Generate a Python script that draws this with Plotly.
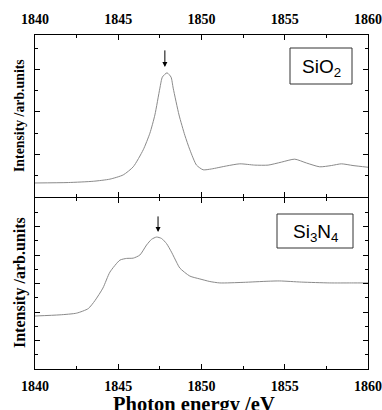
import plotly.graph_objects as go

W, H = 382, 410

# ---- data ----
energy_sio2 = [1840, 1842, 1843.5, 1844.5, 1845.3, 1845.9, 1846.5, 1846.9, 1847.2, 1847.5,
               1847.65, 1847.93, 1848.17, 1848.3, 1848.65, 1849.0, 1849.3, 1849.7, 1850.1,
               1850.6, 1851.5, 1852.3, 1853.2, 1854.0, 1854.8, 1855.6, 1856.3, 1857.1,
               1857.8, 1858.4, 1859.1, 1860]
intensity_sio2 = [0.33, 0.34, 0.37, 0.42, 0.52, 0.71, 1.11, 1.50, 1.93, 2.56,
                  2.82, 2.92, 2.82, 2.56, 1.93, 1.45, 1.11, 0.75, 0.64,
                  0.66, 0.73, 0.78, 0.75, 0.75, 0.82, 0.89, 0.80, 0.71,
                  0.74, 0.78, 0.74, 0.70]

energy_si3n4 = [1840, 1841.5, 1842.5, 1843.2, 1843.6, 1844.08, 1844.5, 1845.1, 1845.5, 1845.9,
                1846.3, 1846.7, 1847.0, 1847.3, 1847.6, 1847.9, 1848.2, 1848.5, 1848.7,
                1849.3, 1849.9, 1850.5, 1851.1, 1852.5, 1854.0, 1854.7, 1856.0, 1857.7,
                1859.0, 1860]
intensity_si3n4 = [1.86, 1.90, 1.96, 2.12, 2.40, 2.84, 3.40, 3.82, 3.88, 3.89,
                   4.00, 4.35, 4.55, 4.63, 4.58, 4.40, 4.10, 3.75, 3.54,
                   3.26, 3.16, 3.07, 3.02, 3.04, 3.08, 3.09, 3.05, 3.02,
                   3.02, 3.02]

arrow_sio2 = (1847.8, 3.06)
arrow_si3n4 = (1847.39, 4.81)
x_ticks = [1840, 1845, 1850, 1855, 1860]


def px(x):
    return x / W


def py(y):
    return 1 - y / H


fig = go.Figure()
line_style = dict(color="#8a8a8a", width=1, shape="spline", smoothing=0.6)
fig.add_trace(go.Scatter(x=energy_sio2, y=intensity_sio2, mode="lines", line=line_style,
                         xaxis="x", yaxis="y", showlegend=False, hoverinfo="skip"))
fig.add_trace(go.Scatter(x=energy_si3n4, y=intensity_si3n4, mode="lines", line=line_style,
                         xaxis="x2", yaxis="y2", showlegend=False, hoverinfo="skip"))

tickfont = dict(family="Liberation Serif", size=14, color="black", weight="bold")
xcommon = dict(range=[1840, 1860], tickvals=x_ticks, ticks="inside", ticklen=5, tickwidth=1,
               tickcolor="black", showline=True, linecolor="black", linewidth=1,
               mirror="ticks", showgrid=False, zeroline=False, tickfont=tickfont,
               automargin=False, ticklabelstandoff=4,
               minor=dict(ticks="inside", ticklen=3, dtick=2.5, tick0=1840, tickcolor="black",
                          showgrid=False),
               domain=[px(35), px(368)])
ycommon = dict(ticks="inside", ticklen=5, tickwidth=1, tickcolor="black", dtick=1, tick0=0,
               showline=True, linecolor="black", linewidth=1, mirror="ticks",
               showgrid=False, zeroline=False, showticklabels=False, automargin=False,
               minor=dict(ticks="inside", ticklen=3, dtick=0.5, tick0=0, tickcolor="black",
                          showgrid=False))

fig.update_layout(
    width=W, height=H, margin=dict(l=0, r=0, t=0, b=0, autoexpand=False),
    paper_bgcolor="white", plot_bgcolor="white",
    xaxis=dict(xcommon, side="top", anchor="y"),
    yaxis=dict(ycommon, range=[0, 3.81], domain=[py(197), py(35)], anchor="x"),
    xaxis2=dict(xcommon, side="bottom", anchor="y2"),
    yaxis2=dict(ycommon, range=[0, 6.0], domain=[py(369), py(198)], anchor="x2"),
)

C = dict(xanchor="center", yanchor="middle")
anns = []
# y titles
anns.append(dict(text="<b>Intensity /arb.units</b>", x=px(19), y=py(116), xref="paper",
                 yref="paper", textangle=-90, showarrow=False, **C,
                 font=dict(family="Liberation Serif", size=13.8, color="black")))
anns.append(dict(text="<b>Intensity /arb.units</b>", x=px(20), y=py(283), xref="paper",
                 yref="paper", textangle=-90, showarrow=False, **C,
                 font=dict(family="Liberation Serif", size=16, color="black")))
# x title
anns.append(dict(text="<b>Photon energy /eV</b>", x=px(194), y=py(404), xref="paper",
                 yref="paper", showarrow=False, **C,
                 font=dict(family="Liberation Serif", size=20.5, color="black")))
# arrows
anns.append(dict(x=arrow_sio2[0], y=arrow_sio2[1], xref="x", yref="y", text="",
                 showarrow=True, arrowhead=2, arrowsize=1, arrowwidth=1, arrowcolor="black",
                 ax=0, ay=-18))
anns.append(dict(x=arrow_si3n4[0], y=arrow_si3n4[1], xref="x2", yref="y2", text="",
                 showarrow=True, arrowhead=2, arrowsize=1, arrowwidth=1, arrowcolor="black",
                 ax=0, ay=-17))
# labels
anns.append(dict(text="SiO<sub>2</sub>", x=px(321), y=py(68), xref="paper", yref="paper",
                 showarrow=False, **C,
                 font=dict(family="Liberation Sans", size=19, color="black")))
anns.append(dict(text="Si<sub>3</sub>N<sub>4</sub>", x=px(315), y=py(233), xref="paper",
                 yref="paper", showarrow=False, **C,
                 font=dict(family="Liberation Sans", size=19, color="black")))
fig.update_layout(annotations=anns)

fig.add_shape(type="rect", xref="paper", yref="paper", x0=px(290), x1=px(352),
              y0=py(84), y1=py(48), line=dict(color="#333", width=1), fillcolor="white",
              layer="below")
fig.add_shape(type="rect", xref="paper", yref="paper", x0=px(277), x1=px(353),
              y0=py(248), y1=py(214), line=dict(color="#333", width=1), fillcolor="white",
              layer="below")

fig.write_html("out.html")
